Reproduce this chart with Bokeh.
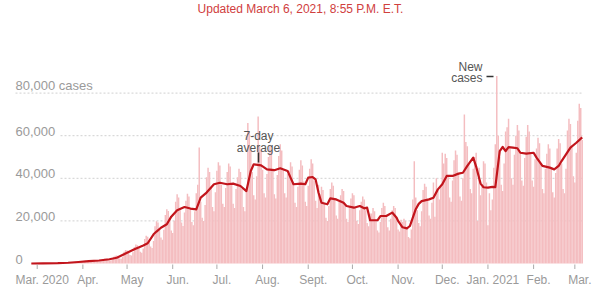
import pandas as pd
from bokeh.plotting import figure
from bokeh.models import Range1d, Label, ColumnDataSource
from bokeh.embed import file_html
from bokeh.resources import INLINE

# ---------------- data ----------------
first_day = "2020-02-26"
# daily new cases, one row per week (Wed .. Tue)
daily_cases = [
    5, 8, 12, 10, 15, 20, 25,
    30, 45, 60, 55, 70, 90, 110,
    130, 170, 200, 180, 230, 260, 320,
    300, 370, 420, 380, 360, 400, 450,
    620, 760, 840, 700, 600, 620, 780,
    1100, 1300, 1350, 1150, 880, 820, 1050,
    1500, 1700, 1650, 1400, 1050, 1000, 1350,
    2100, 2300, 2250, 1900, 1450, 1350, 1900,
    3200, 3600, 3700, 3100, 2300, 2200, 3000,
    5500, 6300, 6100, 5200, 4000, 3800, 5300,
    7700, 8900, 8600, 7300, 5500, 5100, 7100,
    11500, 13000, 12600, 10500, 8000, 7300, 10600,
    17500, 19800, 19300, 16200, 12200, 11200, 15800,
    22800, 25500, 24600, 20700, 15500, 14300, 20100,
    29000, 32500, 31000, 25800, 19300, 17600, 24000,
    29500, 32800, 31500, 26200, 19500, 18000, 24500,
    33000, 37000, 54500, 29000, 21500, 20000, 27500,
    40500, 45000, 43000, 35500, 26500, 24500, 33500,
    43500, 47500, 46000, 37000, 28000, 26500, 35500,
    43000, 47000, 45500, 37500, 28000, 26000, 35000,
    40500, 44500, 43000, 35000, 26500, 24500, 34000,
    66000, 62000, 53000, 43000, 32000, 30000, 41000,
    69000, 55000, 53000, 44000, 33000, 31000, 42000,
    50000, 55000, 52500, 43500, 32500, 30500, 41500,
    50500, 56000, 53000, 44000, 33000, 31000, 42000,
    43500, 47500, 45500, 38000, 28500, 26500, 36000,
    44000, 48500, 46000, 38500, 29000, 27000, 36500,
    44500, 49000, 47000, 39000, 29500, 26000, 37000,
    32500, 36000, 34500, 28500, 21500, 20000, 27000,
    35000, 38000, 36500, 30000, 22500, 21000, 29000,
    32000, 35000, 34000, 28000, 21000, 19500, 26500,
    30500, 33000, 32000, 26500, 20000, 18500, 25000,
    29000, 31500, 30000, 25000, 19000, 17500, 23500,
    23500, 26000, 24500, 20500, 15500, 14500, 19500,
    26000, 28500, 27000, 22500, 17000, 15500, 21000,
    25000, 27000, 26000, 21500, 16000, 15000, 20500,
    19500, 21000, 20000, 17000, 12500, 11800, 16000,
    30000, 48000, 31000, 25000, 19000, 17500, 24500,
    34500, 37500, 36000, 30000, 22500, 21000, 28500,
    38000, 22000, 40000, 34000, 30000, 36000, 52000,
    47000, 51500, 49500, 41000, 31000, 29000, 39000,
    48500, 53000, 51000, 42000, 31500, 29500, 40000,
    70000, 57000, 55000, 46500, 35000, 33000, 44500,
    50000, 52000, 20000, 45000, 32000, 36000, 48000,
    47000, 38000, 18000, 33000, 25000, 30000, 45000,
    56000, 88000, 60000, 50000, 37000, 34000, 47000,
    62000, 64000, 68000, 54000, 40000, 37000, 51000,
    60000, 65000, 62500, 52000, 39000, 36500, 49500,
    59500, 65000, 62000, 52000, 39000, 36000, 49000,
    54000, 59000, 56500, 47000, 35000, 33000, 44500,
    51500, 56000, 54000, 45000, 33500, 31000, 42500,
    54000, 58500, 56500, 47000, 35000, 33000, 44500,
    62500, 68000, 65500, 54500, 41000, 38000, 52000,
    67000, 75000, 73000, 58000,
]

avg_dates = [
    "2020-02-26", "2020-03-05", "2020-03-15", "2020-03-22", "2020-03-29",
    "2020-04-05", "2020-04-12", "2020-04-19", "2020-04-24", "2020-05-01",
    "2020-05-06", "2020-05-12", "2020-05-15", "2020-05-19", "2020-05-21",
    "2020-05-24", "2020-05-28", "2020-05-31", "2020-06-04", "2020-06-09",
    "2020-06-13", "2020-06-17", "2020-06-20", "2020-06-24", "2020-06-29",
    "2020-07-03", "2020-07-08", "2020-07-12", "2020-07-17", "2020-07-21",
    "2020-07-24", "2020-07-26", "2020-07-31", "2020-08-04", "2020-08-09",
    "2020-08-13", "2020-08-18", "2020-08-20", "2020-08-22", "2020-08-27",
    "2020-08-30", "2020-09-01", "2020-09-04", "2020-09-06", "2020-09-08",
    "2020-09-10", "2020-09-14", "2020-09-16", "2020-09-20", "2020-09-25",
    "2020-09-27", "2020-10-02", "2020-10-06", "2020-10-09", "2020-10-11",
    "2020-10-13", "2020-10-18", "2020-10-20", "2020-10-24", "2020-10-28",
    "2020-10-31", "2020-11-01", "2020-11-04", "2020-11-07", "2020-11-09",
    "2020-11-11", "2020-11-13", "2020-11-15", "2020-11-17", "2020-11-22",
    "2020-11-25", "2020-11-28", "2020-12-01", "2020-12-04", "2020-12-08",
    "2020-12-12", "2020-12-15", "2020-12-18", "2020-12-22", "2020-12-24",
    "2020-12-27", "2020-12-29", "2021-01-01", "2021-01-04", "2021-01-06",
    "2021-01-09", "2021-01-11", "2021-01-13", "2021-01-15", "2021-01-18",
    "2021-01-21", "2021-01-23", "2021-01-27", "2021-02-01", "2021-02-03",
    "2021-02-07", "2021-02-12", "2021-02-15", "2021-02-18", "2021-02-20",
    "2021-02-26", "2021-03-02", "2021-03-06",
]
avg_values = [
    0, 30, 150, 350, 700,
    1100, 1400, 2000, 2700, 5000,
    6700, 8500, 9500, 13700, 15000,
    16800, 18400, 22000, 25000, 26500,
    25800, 25400, 30900, 33300, 37200,
    37900, 37200, 37500, 36400, 34000,
    43400, 46600, 46100, 44200, 43800,
    44700, 43400, 40300, 37200, 37500,
    37200, 40300, 40600, 39500, 33200,
    28500, 27800, 30600, 30100, 28500,
    27000, 26200, 27000, 25900, 26200,
    20300, 20300, 22300, 22300, 23900,
    21500, 20000, 17000, 16500, 17600,
    21500, 25500, 28000, 29300, 30100,
    30900, 34800, 37200, 41100, 41100,
    42200, 42600, 45800, 49700, 45500,
    37500, 35800, 35600, 36000, 35900,
    52800, 54700, 52800, 54600, 54400,
    54100, 52000, 51600, 52000, 49700,
    45800, 45000, 44200, 45800, 48100,
    54400, 56700, 59200,
]

month_ticks = [
    "2020-03-01", "2020-04-01", "2020-05-01", "2020-06-01", "2020-07-01",
    "2020-08-01", "2020-09-01", "2020-10-01", "2020-11-01", "2020-12-01",
    "2021-01-01", "2021-02-01", "2021-03-01",
]
month_labels = ["Mar. 2020", "Apr.", "May", "Jun.", "Jul.", "Aug.", "Sept.",
                "Oct.", "Nov.", "Dec.", "Jan. 2021", "Feb.", "Mar."]

y_ticks = [0, 20000, 40000, 60000, 80000]
y_tick_labels = ["0", "20,000", "40,000", "60,000", "80,000 cases"]

title_text = "Updated March 6, 2021, 8:55 P.M. E.T."

# ---------------- layout helpers (pixel <-> data) ----------------
ORIGIN = pd.Timestamp("2020-03-01")
PX_ORIGIN = 36.7
PX_PER_DAY = 1.473
PX_ZERO = 263.0
PX_PER_CASE = 2.13 / 1000.0
DAY_MS = 86400000.0
W, H = 600, 300


def to_ms(d):
    return pd.Timestamp(d).value / 1e6


def px_to_ms(px):
    return to_ms(ORIGIN) + (px - PX_ORIGIN) / PX_PER_DAY * DAY_MS


def py_to_val(py):
    return (PX_ZERO - py) / PX_PER_CASE


FONT = "Liberation Sans"
GRAY = "#9a9a9a"

bar_dates = pd.date_range(first_day, periods=len(daily_cases), freq="D")
bars = ColumnDataSource(dict(x=[to_ms(d) for d in bar_dates], top=daily_cases))
avg = ColumnDataSource(dict(x=[to_ms(d) for d in avg_dates], y=avg_values))

# the frame covers the whole canvas so that every annotation is visible
p = figure(width=W, height=H,
           x_range=Range1d(px_to_ms(0), px_to_ms(W)),
           y_range=Range1d(py_to_val(H), py_to_val(0)),
           x_axis_location=None, y_axis_location=None,
           output_backend="svg", toolbar_location=None,
           min_border=0)
p.outline_line_color = None
p.xgrid.visible = False
p.ygrid.visible = False
p.background_fill_color = "white"
p.border_fill_color = "white"

# gridlines
for v in y_ticks[1:]:
    x0 = px_to_ms(15) if v == y_ticks[-1] else px_to_ms(60)
    p.segment(x0=[x0], y0=[v], x1=[px_to_ms(583)], y1=[v],
              line_color="#d0d0d0", line_width=1, line_dash="2 2")

# bars and 7-day average
p.vbar(x="x", top="top", bottom=0, width=1.0 * DAY_MS, source=bars,
       fill_color="#f4bdc0", line_color=None)
p.line(x="x", y="y", source=avg, line_color="#c2151c", line_width=2.2,
       line_join="round")

# x-axis tick marks at month starts
tick_x = [to_ms(d) for d in month_ticks]
p.segment(x0=tick_x, y0=[py_to_val(264)] * len(tick_x),
          x1=tick_x, y1=[py_to_val(268.5)] * len(tick_x),
          line_color="#aaaaaa", line_width=1)

# y labels
for v, t in zip(y_ticks, y_tick_labels):
    p.add_layout(Label(x=px_to_ms(15), y=v, text=t, text_align="left",
                       text_baseline="bottom", text_font=FONT,
                       text_font_size="13px", text_color=GRAY))

# x labels
for d, t in zip(month_ticks, month_labels):
    p.add_layout(Label(x=to_ms(d) + 5 / PX_PER_DAY * DAY_MS, y=py_to_val(279),
                       text=t, text_align="center", text_baseline="middle",
                       text_font=FONT, text_font_size="12px", text_color=GRAY))

# annotations
ann_color = "#555555"
p.add_layout(Label(x=px_to_ms(258), y=py_to_val(135), text="7-day",
                   text_align="center", text_baseline="middle", text_font=FONT,
                   text_font_size="12px", text_color=ann_color))
p.add_layout(Label(x=px_to_ms(258), y=py_to_val(147), text="average",
                   text_align="center", text_baseline="middle", text_font=FONT,
                   text_font_size="12px", text_color=ann_color))
p.segment(x0=[px_to_ms(258)], y0=[py_to_val(152)], x1=[px_to_ms(258)],
          y1=[py_to_val(162)], line_color="#333333", line_width=1.5)

p.add_layout(Label(x=px_to_ms(482), y=py_to_val(66), text="New",
                   text_align="right", text_baseline="middle", text_font=FONT,
                   text_font_size="12px", text_color=ann_color))
p.add_layout(Label(x=px_to_ms(482), y=py_to_val(77), text="cases",
                   text_align="right", text_baseline="middle", text_font=FONT,
                   text_font_size="12px", text_color=ann_color))
p.segment(x0=[px_to_ms(486)], y0=[py_to_val(76)], x1=[px_to_ms(493)],
          y1=[py_to_val(76)], line_color="#333333", line_width=1.5)

# title line at the very top
p.add_layout(Label(x=px_to_ms(300), y=py_to_val(1), text=title_text,
                   text_align="center", text_baseline="top", text_font=FONT,
                   text_font_size="12px", text_color="#d0403e"))

open("out.html", "w").write(file_html(p, INLINE))
